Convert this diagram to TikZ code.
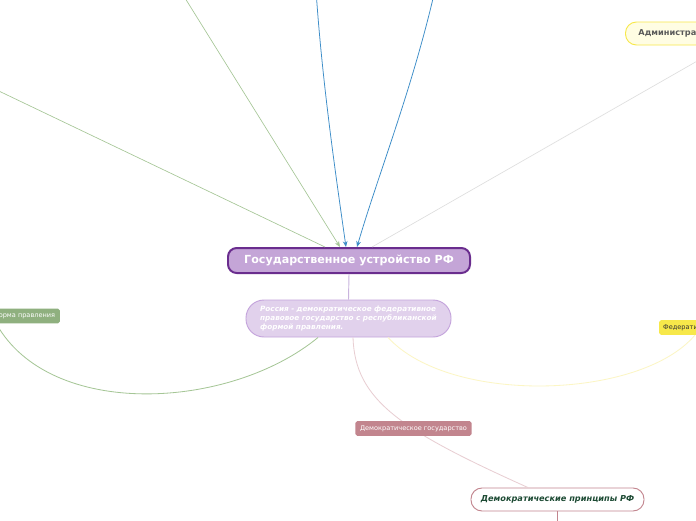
\documentclass[tikz,border=0pt]{standalone}
\usepackage{fontspec}
\setmainfont{DejaVu Sans}
\usetikzlibrary{arrows.meta,calc}
\definecolor{gsmain}{RGB}{196,165,215}
\definecolor{gsedge}{RGB}{106,45,142}
\definecolor{gssub}{RGB}{225,209,236}
\definecolor{gssubedge}{RGB}{196,164,220}
\definecolor{gslav}{RGB}{201,180,222}
\definecolor{gsgreen}{RGB}{143,176,127}
\definecolor{gsgreenline}{RGB}{165,198,150}
\definecolor{gsblue}{RGB}{60,141,200}
\definecolor{gsgrey}{RGB}{222,222,222}
\definecolor{gsyellow}{RGB}{247,232,74}
\definecolor{gsyellowbg}{RGB}{255,253,227}
\definecolor{gsyellowline}{RGB}{252,246,196}
\definecolor{gspink}{RGB}{194,133,142}
\definecolor{gspinkline}{RGB}{232,206,210}
\definecolor{gsdark}{RGB}{28,74,51}
\tikzset{
  topic/.style={draw=gsedge, line width=1.7pt, fill=gsmain, rounded corners=0.26cm,
                minimum width=7.26cm, minimum height=0.75cm, inner sep=0pt,
                text=white, font=\fontsize{9.5}{11}\selectfont\bfseries},
  note/.style={draw=gssubedge, line width=0.8pt, fill=gssub, rounded corners=0.54cm,
               minimum width=6.15cm, minimum height=1.11cm, inner sep=0pt,
               align=left, text width=5.3cm, text=white,
               font=\fontsize{6.2}{7.6}\selectfont\bfseries\itshape},
  tag/.style={rounded corners=1.5pt, minimum height=0.44cm, inner ysep=0pt,
              inner xsep=0.14cm, text=white, font=\fontsize{5.6}{6}\selectfont},
  pill/.style={rounded corners=0.33cm, minimum height=0.69cm, inner ysep=0pt,
               line width=0.8pt},
  arr/.style={-{Stealth[length=5pt,width=4pt]}},
  link/.style={line width=0.55pt}
}
\begin{document}
\begin{tikzpicture}[x=0.03cm,y=-0.03cm]
  \useasboundingbox (0,0) rectangle (696,520);
  \clip (0,0) rectangle (696,520);
  \fill[white] (0,0) rectangle (696,520);

  \node[topic] (main) at (349,260.5) {Государственное устройство РФ};
  \node[note] (sub) at (348.5,318.5) {Россия - демократическое федеративное правовое государство с республиканской формой правления.};
  \node[pill, draw=gsyellow, fill=gsyellowbg, anchor=west, inner xsep=0.39cm,
        text=black!65, font=\fontsize{7}{8}\selectfont\bfseries] (admin) at (625,33.5)
        {Административно-территориальное деление};
  \node[tag, fill=gsyellow, text=black!80, anchor=west, inner xsep=0.12cm] (fed) at (659,327.5)
        {Федеративное устройство};
  \node[tag, fill=gsgreen, anchor=east] (forma) at (60,316) {Форма правления};
  \node[pill, draw=gspink, fill=white, minimum width=5.19cm, text=gsdark,
        font=\fontsize{7}{8}\selectfont\bfseries\itshape] (princ) at (557.5,499.5)
        {Демократические принципы РФ};

  \coordinate (topg) at (180,-10);
  \coordinate (topb1) at (316,-10);
  \coordinate (topb2) at (435,-10);
  \coordinate (leftg) at (-20,82);
  \coordinate (rightg) at (720,48);
  \coordinate (princout) at (557.5,530);

  \draw[link, gsgreenline, arr] (topg) -- ($(main.north)+(-9,0)$);
  \draw[link, gsblue, arr, line width=0.65pt] (topb1) .. controls (322,80) and (335,170) .. ($(main.north)+(-3,0)$);
  \draw[link, gsblue, arr, line width=0.65pt] (topb2) .. controls (412,90) and (378,175) .. ($(main.north)+(8,0)$);
  \draw[link, gsgreenline] (leftg) -- ($(main.north)+(-24,0)$);
  \draw[link, gsgrey] (rightg) -- ($(main.north)+(23,0)$);
  \draw[link, gslav, line width=0.8pt] (main.south) -- (sub.north);
  \draw[link, gsgreenline, line width=0.7pt] ($(forma.south west)+(8,0)$) .. controls (50,420) and (230,410) .. ($(sub.south)+(-30.5,0)$);
  \draw[link, gsyellowline, line width=0.7pt] ($(sub.south)+(39.5,0)$) .. controls (450,405) and (640,400) .. ($(fed.south west)+(36,0)$);
  \draw[link, gspinkline, line width=0.7pt] ($(sub.south)+(4.5,0)$) .. controls (355,400) and (400,430) .. ($(princ.north)+(-29.5,0)$);
  \draw[link, gspink, line width=0.8pt] (princ.south) -- (princout);

  \node[tag, fill=gspink, minimum width=3.39cm] (demgos) at (413.5,428.5) {Демократическое государство};
\end{tikzpicture}
\end{document}
